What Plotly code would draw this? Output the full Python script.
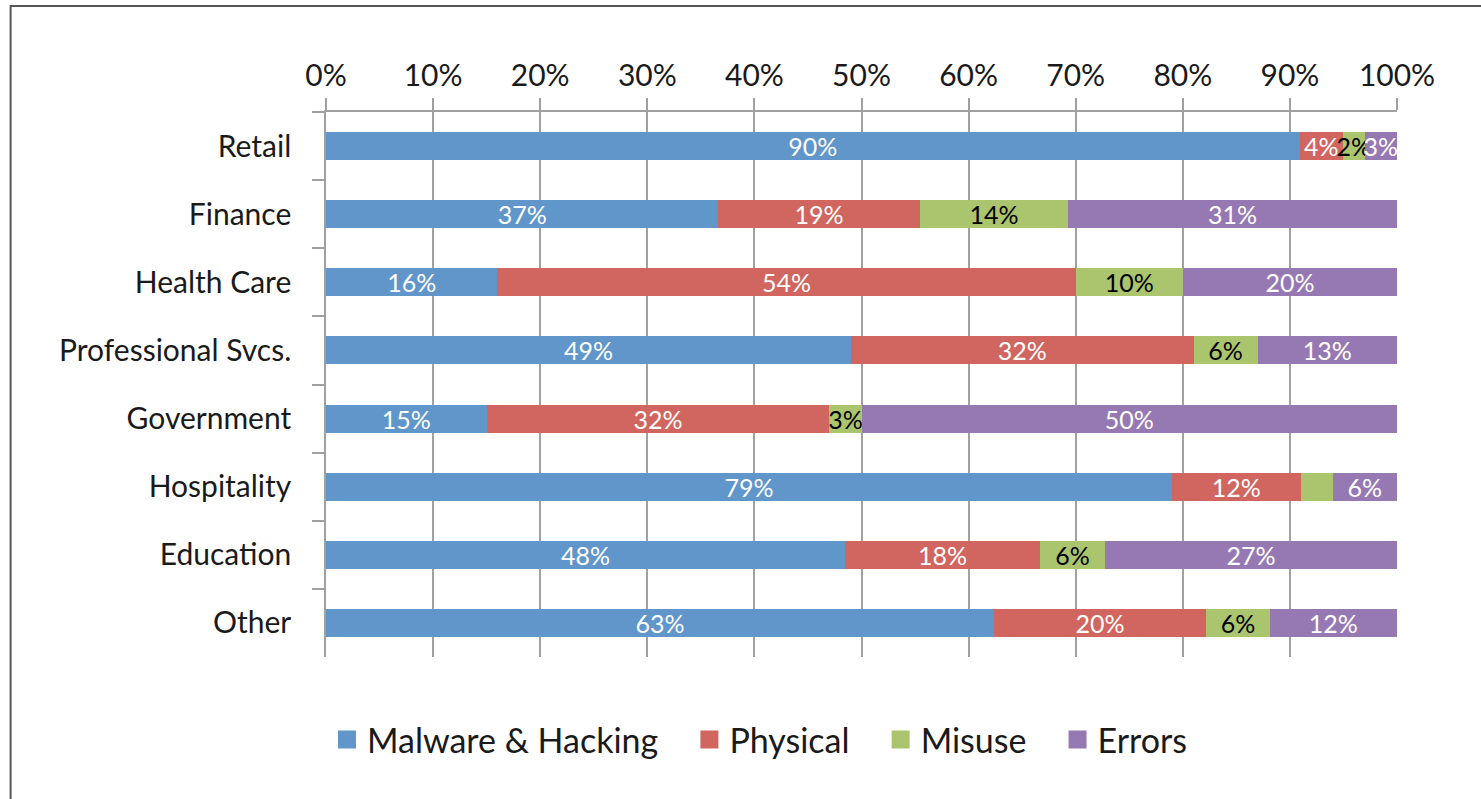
import plotly.graph_objects as go

industries = ["Retail", "Finance", "Health Care", "Professional Svcs.",
              "Government", "Hospitality", "Education", "Other"]
malware = [90, 37, 16, 49, 15, 79, 48, 63]
physical = [4, 19, 54, 32, 32, 12, 18, 20]
misuse = [2, 14, 10, 6, 3, 3, 6, 6]
errors = [3, 31, 20, 13, 50, 6, 27, 12]
# Hospitality's misuse share carries no printed label
misuse_shown = [True, True, True, True, True, False, True, True]

series = [
    ("Malware & Hacking", malware, "#6096CA", "white", None),
    ("Physical", physical, "#D0665F", "white", None),
    ("Misuse", misuse, "#ABC56E", "black", misuse_shown),
    ("Errors", errors, "#9679B3", "white", None),
]

FONT = "Lato"
PAD = "\u00a0" * 3  # extra room between legend entries

fig = go.Figure()
for k, (name, vals, color, txtcolor, shown) in enumerate(series):
    labels = [f"{v}%" if (shown is None or shown[i]) else "" for i, v in enumerate(vals)]
    fig.add_trace(go.Bar(
        y=industries, x=vals, name=name, orientation="h",
        marker=dict(color=color, line=dict(width=0)),
        text=labels, textposition="inside", insidetextanchor="middle",
        textangle=0, insidetextfont=dict(color=txtcolor, size=25, family=FONT),
        cliponaxis=False, showlegend=False,
    ))
    # square swatch for the legend
    fig.add_trace(go.Scatter(
        x=[None], y=[None], mode="markers",
        name=name + (PAD if k < len(series) - 1 else ""),
        marker=dict(symbol="square", size=16, color=color,
                    line=dict(color=color, width=2)),
        showlegend=True,
    ))

fig.update_layout(
    barmode="stack", barnorm="percent", bargap=0.59,
    width=1481, height=799,
    margin=dict(l=326, r=84, t=112, b=142),
    paper_bgcolor="white", plot_bgcolor="white",
    font=dict(family=FONT, size=30, color="#1a1a1a"),
    uniformtext=dict(mode="show", minsize=25),
    legend=dict(orientation="h", x=0.4052, xanchor="center", y=-0.152, yanchor="middle",
                font=dict(size=34, family=FONT, color="#1a1a1a"), traceorder="normal",
                itemsizing="trace", itemwidth=30),
    showlegend=True,
)
fig.update_xaxes(
    side="top", range=[0, 100], dtick=10, ticksuffix="%",
    showgrid=True, gridcolor="#A0A0A0", gridwidth=1.5,
    showline=True, linecolor="#A0A0A0", linewidth=1.5,
    ticks="outside", ticklen=12, tickcolor="#A0A0A0", tickwidth=1.5,
    zeroline=False, fixedrange=True,
)
fig.update_yaxes(
    autorange="reversed", tickson="boundaries",
    showline=True, linecolor="#A0A0A0", linewidth=1.5,
    ticks="outside", ticklen=12, tickcolor="#A0A0A0", tickwidth=1.5,
    ticklabelstandoff=27, showgrid=False, fixedrange=True,
)
# chart frame
fig.add_shape(type="rect", xref="paper", yref="paper",
              x0=-0.2945, x1=1.3, y0=-0.5, y1=1.1945,
              line=dict(color="#555555", width=2), layer="below")

fig.write_html("out.html")
